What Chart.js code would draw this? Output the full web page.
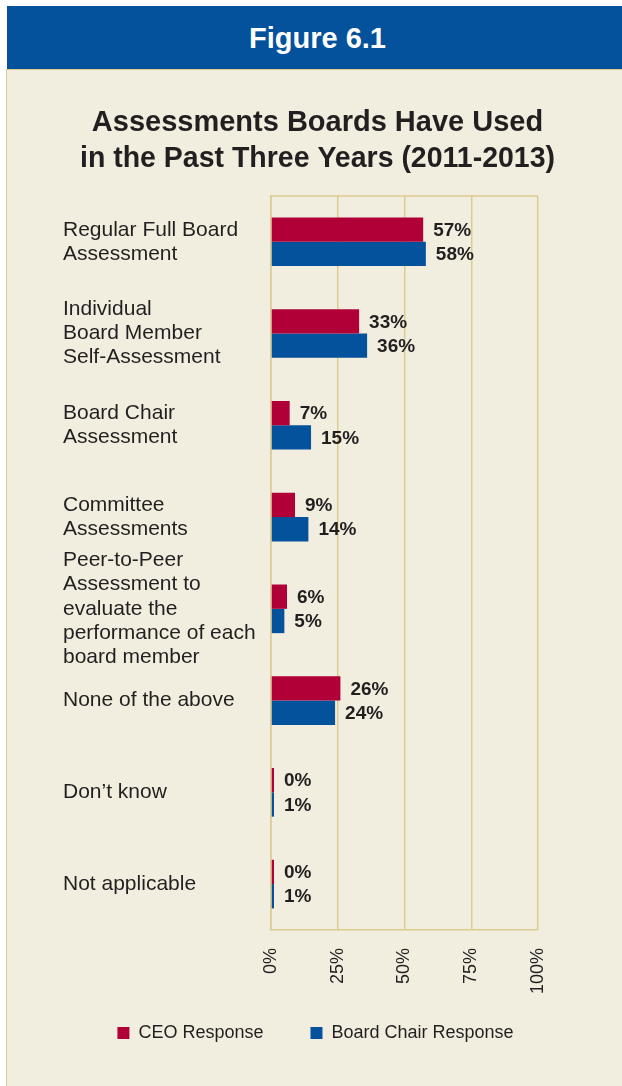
<!DOCTYPE html>
<html>
<head>
<meta charset="utf-8">
<script src="https://cdn.jsdelivr.net/npm/chart.js@4"></script>
<style>
  body { margin: 0; background: #fff; overflow: hidden; }
  #header {
    position: absolute; left: 7px; top: 6px; width: 615px; height: 63px;
    background: #03529b; color: #fff; box-sizing: border-box; padding-left: 6px;
    font: bold 29px "Liberation Sans", Arial, sans-serif;
    text-align: center; line-height: 64px;
  }
  #panel {
    position: absolute; left: 6px; top: 69px; width: 616px; height: 1017px;
    background: #f2eedf; border-top: 1px solid #dccb8e; border-left: 1px solid #dccb8e;
    box-sizing: border-box;
  }
  #wrap { position: absolute; left: 6px; top: 70px; width: 616px; height: 1016px; }
</style>
</head>
<body>
<div id="header">Figure 6.1</div>
<div id="panel"></div>
<div id="wrap"><canvas id="barChart"></canvas></div>
<script>
// data
const categories = [
  ['Regular Full Board', 'Assessment'],
  ['Individual', 'Board Member', 'Self-Assessment'],
  ['Board Chair', 'Assessment'],
  ['Committee', 'Assessments'],
  ['Peer-to-Peer', 'Assessment to', 'evaluate the', 'performance of each', 'board member'],
  'None of the above',
  'Don\u2019t know',
  'Not applicable'
];
const ceoResponse = [57, 33, 7, 9, 6, 26, 0, 0];
const chairResponse = [58, 36, 15, 14, 5, 24, 1, 1];
const xTicks = [0, 25, 50, 75, 100];

const textColor = '#231f20';
const gridColor = '#dccb8e';
const fontFamily = '"Liberation Sans", Arial, sans-serif';

// value labels next to each bar
const barLabels = {
  id: 'barLabels',
  afterDatasetsDraw(chart) {
    const ctx = chart.ctx;
    ctx.save();
    ctx.font = 'bold 19px ' + fontFamily;
    ctx.fillStyle = textColor;
    ctx.textBaseline = 'middle';
    chart.data.datasets.forEach(function (ds, i) {
      chart.getDatasetMeta(i).data.forEach(function (bar, j) {
        ctx.fillText(ds.data[j] + '%', bar.x + 10, bar.y + 1);
      });
    });
    ctx.restore();
  }
};

// top edge of the plot frame
const topBorder = {
  id: 'topBorder',
  afterDraw(chart) {
    const a = chart.chartArea;
    const ctx = chart.ctx;
    ctx.save();
    ctx.strokeStyle = gridColor;
    ctx.lineWidth = 1.5;
    ctx.beginPath();
    ctx.moveTo(a.left, a.top);
    ctx.lineTo(a.right, a.top);
    ctx.stroke();
    ctx.restore();
  }
};

// title and legend are centred on the whole figure, not on the padded box
const centerShift = {
  id: 'centerShift',
  afterLayout(chart) {
    chart.titleBlock.left += 17;
    chart.titleBlock.right += 17;
    chart.legend.left += 15;
    chart.legend.right += 15;
  }
};

const ctx = document.getElementById('barChart').getContext('2d');
new Chart(ctx, {
  type: 'bar',
  data: {
    labels: categories,
    datasets: [{
      label: 'CEO Response',
      data: ceoResponse,
      backgroundColor: '#b10038'
    }, {
      label: 'Board Chair Response',
      data: chairResponse,
      backgroundColor: '#03529b'
    }]
  },
  options: {
    indexAxis: 'y',
    responsive: true,
    maintainAspectRatio: false,
    animation: false,
    minBarLength: 3,
    barPercentage: 1,
    categoryPercentage: 0.53,
    layout: { padding: { top: 0, left: 57, right: 84, bottom: 34 } },
    scales: {
      x: {
        min: 0,
        max: 100,
        afterBuildTicks: function (axis) {
          axis.ticks = xTicks.map(function (v) { return { value: v }; });
        },
        grid: { color: gridColor, lineWidth: 1.5, drawTicks: false },
        border: { color: gridColor, width: 1.5 },
        ticks: {
          minRotation: 90,
          maxRotation: 90,
          padding: 18,
          color: textColor,
          font: { family: fontFamily, size: 18 },
          callback: function (v) { return v + '%'; }
        }
      },
      y: {
        grid: { display: false },
        border: { color: gridColor, width: 1.5 },
        afterFit: function (axis) { axis.width = 208; },
        ticks: {
          autoSkip: false,
          crossAlign: 'far',
          color: textColor,
          font: { family: fontFamily, size: 21, lineHeight: 1.15 }
        }
      }
    },
    plugins: {
      title: {
        display: true,
        text: ['Assessments Boards Have Used', 'in the Past Three Years (2011-2013)'],
        color: textColor,
        font: { family: fontFamily, size: 29, weight: 'bold', lineHeight: 1.24 },
        padding: { top: 35, bottom: 19 }
      },
      legend: {
        position: 'bottom',
        labels: {
          boxWidth: 12,
          boxHeight: 12,
          padding: 12,
          color: textColor,
          font: { family: fontFamily, size: 18 },
          generateLabels: function (chart) {
            const items = Chart.defaults.plugins.legend.labels.generateLabels(chart);
            items[0].text = items[0].text + '       ';
            return items;
          }
        }
      },
      tooltip: { enabled: false }
    }
  },
  plugins: [barLabels, topBorder, centerShift]
});
</script>
</body>
</html>
